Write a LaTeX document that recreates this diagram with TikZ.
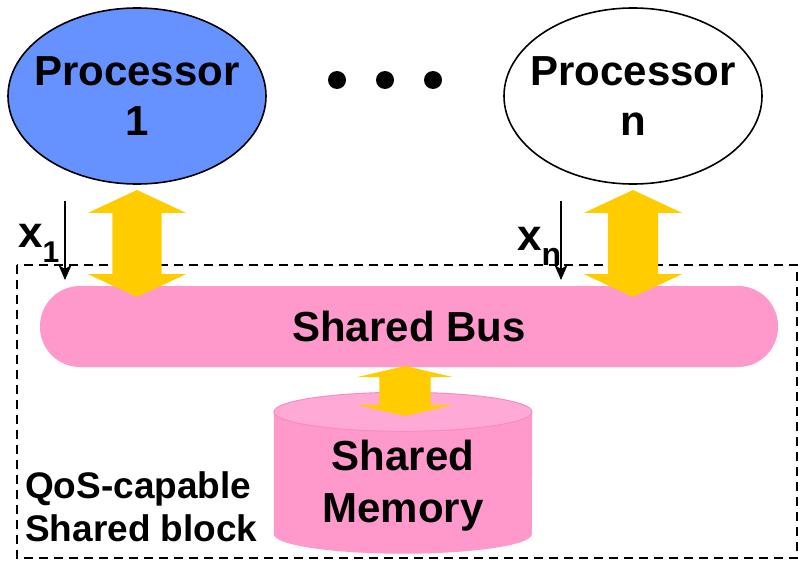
\documentclass[tikz,border=0pt]{standalone}
\usepackage{fontspec}
\setmainfont{Liberation Sans}
\usetikzlibrary{arrows.meta,shapes.geometric,shapes.arrows}
\definecolor{ProcClr}{RGB}{102,146,255}
\definecolor{BusClr}{RGB}{255,153,204}
\definecolor{MemTopClr}{RGB}{255,170,214}
\definecolor{MemEdgeClr}{RGB}{245,140,195}
\definecolor{LinkClr}{RGB}{255,204,0}

\tikzset{
  proc/.style={ellipse,draw=black,line width=1.6pt,minimum width=258pt,
    minimum height=176pt,inner xsep=-30pt,inner ysep=0pt,align=center,
    font=\bfseries\fontsize{42}{50}\selectfont},
  link/.style={double arrow,fill=LinkClr,draw=none,inner xsep=0pt,rotate=90},
  rate/.style={-{Stealth[length=15pt,width=13pt,inset=4pt]},line width=1.3pt},
  ratelbl/.style={anchor=base west,inner sep=0pt,
    font=\bfseries\fontsize{44}{44}\selectfont},
  dotmark/.style={circle,fill=black,inner sep=0pt,minimum size=18pt},
}

\begin{document}
\begin{tikzpicture}[x=1pt,y=-1pt]
\useasboundingbox (0,0) rectangle (798,562);

% processors
\node[proc,fill=ProcClr] (P1) at (137,96) {Processor\\1};
\node[proc,fill=white] (Pn) at (633,96) {Processor\\n};
\node[dotmark] (d1) at (337,80) {};
\node[dotmark] (d2) at (385,80) {};
\node[dotmark] (d3) at (433,80) {};

% shared block
\draw[dashed,dash pattern=on 9pt off 6pt,line width=1.5pt] (17,265) rectangle (797,558);
\node[anchor=north west,align=left,inner sep=0pt,
  font=\bfseries\fontsize{37}{43}\selectfont] (qos) at (25,471)
  {QoS-capable\\Shared block};

% bus and memory
\node[fill=BusClr,rounded corners=40pt,minimum width=738pt,minimum height=81pt,
  font=\bfseries\fontsize{42}{49}\selectfont] (bus) at (409,326.5) {Shared Bus};

\node[minimum width=258pt,minimum height=122pt,inner sep=0pt] (mem) at (403,473) {};
\fill[BusClr] (mem.north west) -- (mem.south west)
  arc[x radius=129pt,y radius=19.5pt,start angle=180,end angle=360]
  -- (mem.north east) -- cycle;
\filldraw[fill=MemTopClr,draw=MemEdgeClr,line width=1pt] (mem.north)
  ellipse[x radius=129pt,y radius=19.5pt];
\node[align=center,font=\bfseries\fontsize{42}{52}\selectfont] (memtxt)
  at (403,486) {Shared\\Memory};

% links to the bus
\node[link,minimum height=107pt,inner ysep=24.5pt,double arrow head extend=24.5pt,
  double arrow tip angle=130] (l1) at (137,243.5) {};
\node[link,minimum height=107pt,inner ysep=25pt,double arrow head extend=24pt,
  double arrow tip angle=130] (ln) at (633,243.5) {};
\node[link,minimum height=50pt,inner ysep=25.5pt,double arrow head extend=22.5pt,
  double arrow tip angle=154] (lm) at (405,391) {};

% request rates
\coordinate (r1a) at (65,201);
\coordinate (r1b) at (65,280);
\coordinate (rna) at (561,201);
\coordinate (rnb) at (561,280);
\draw[rate] (r1a) -- (r1b);
\draw[rate] (rna) -- (rnb);
\node[ratelbl] (x1) at (18,247) {x\raisebox{-15pt}{\fontsize{30}{30}\selectfont 1}};
\node[ratelbl] (xn) at (517,250) {x\raisebox{-15pt}{\fontsize{32}{32}\selectfont n}};

\end{tikzpicture}
\end{document}
